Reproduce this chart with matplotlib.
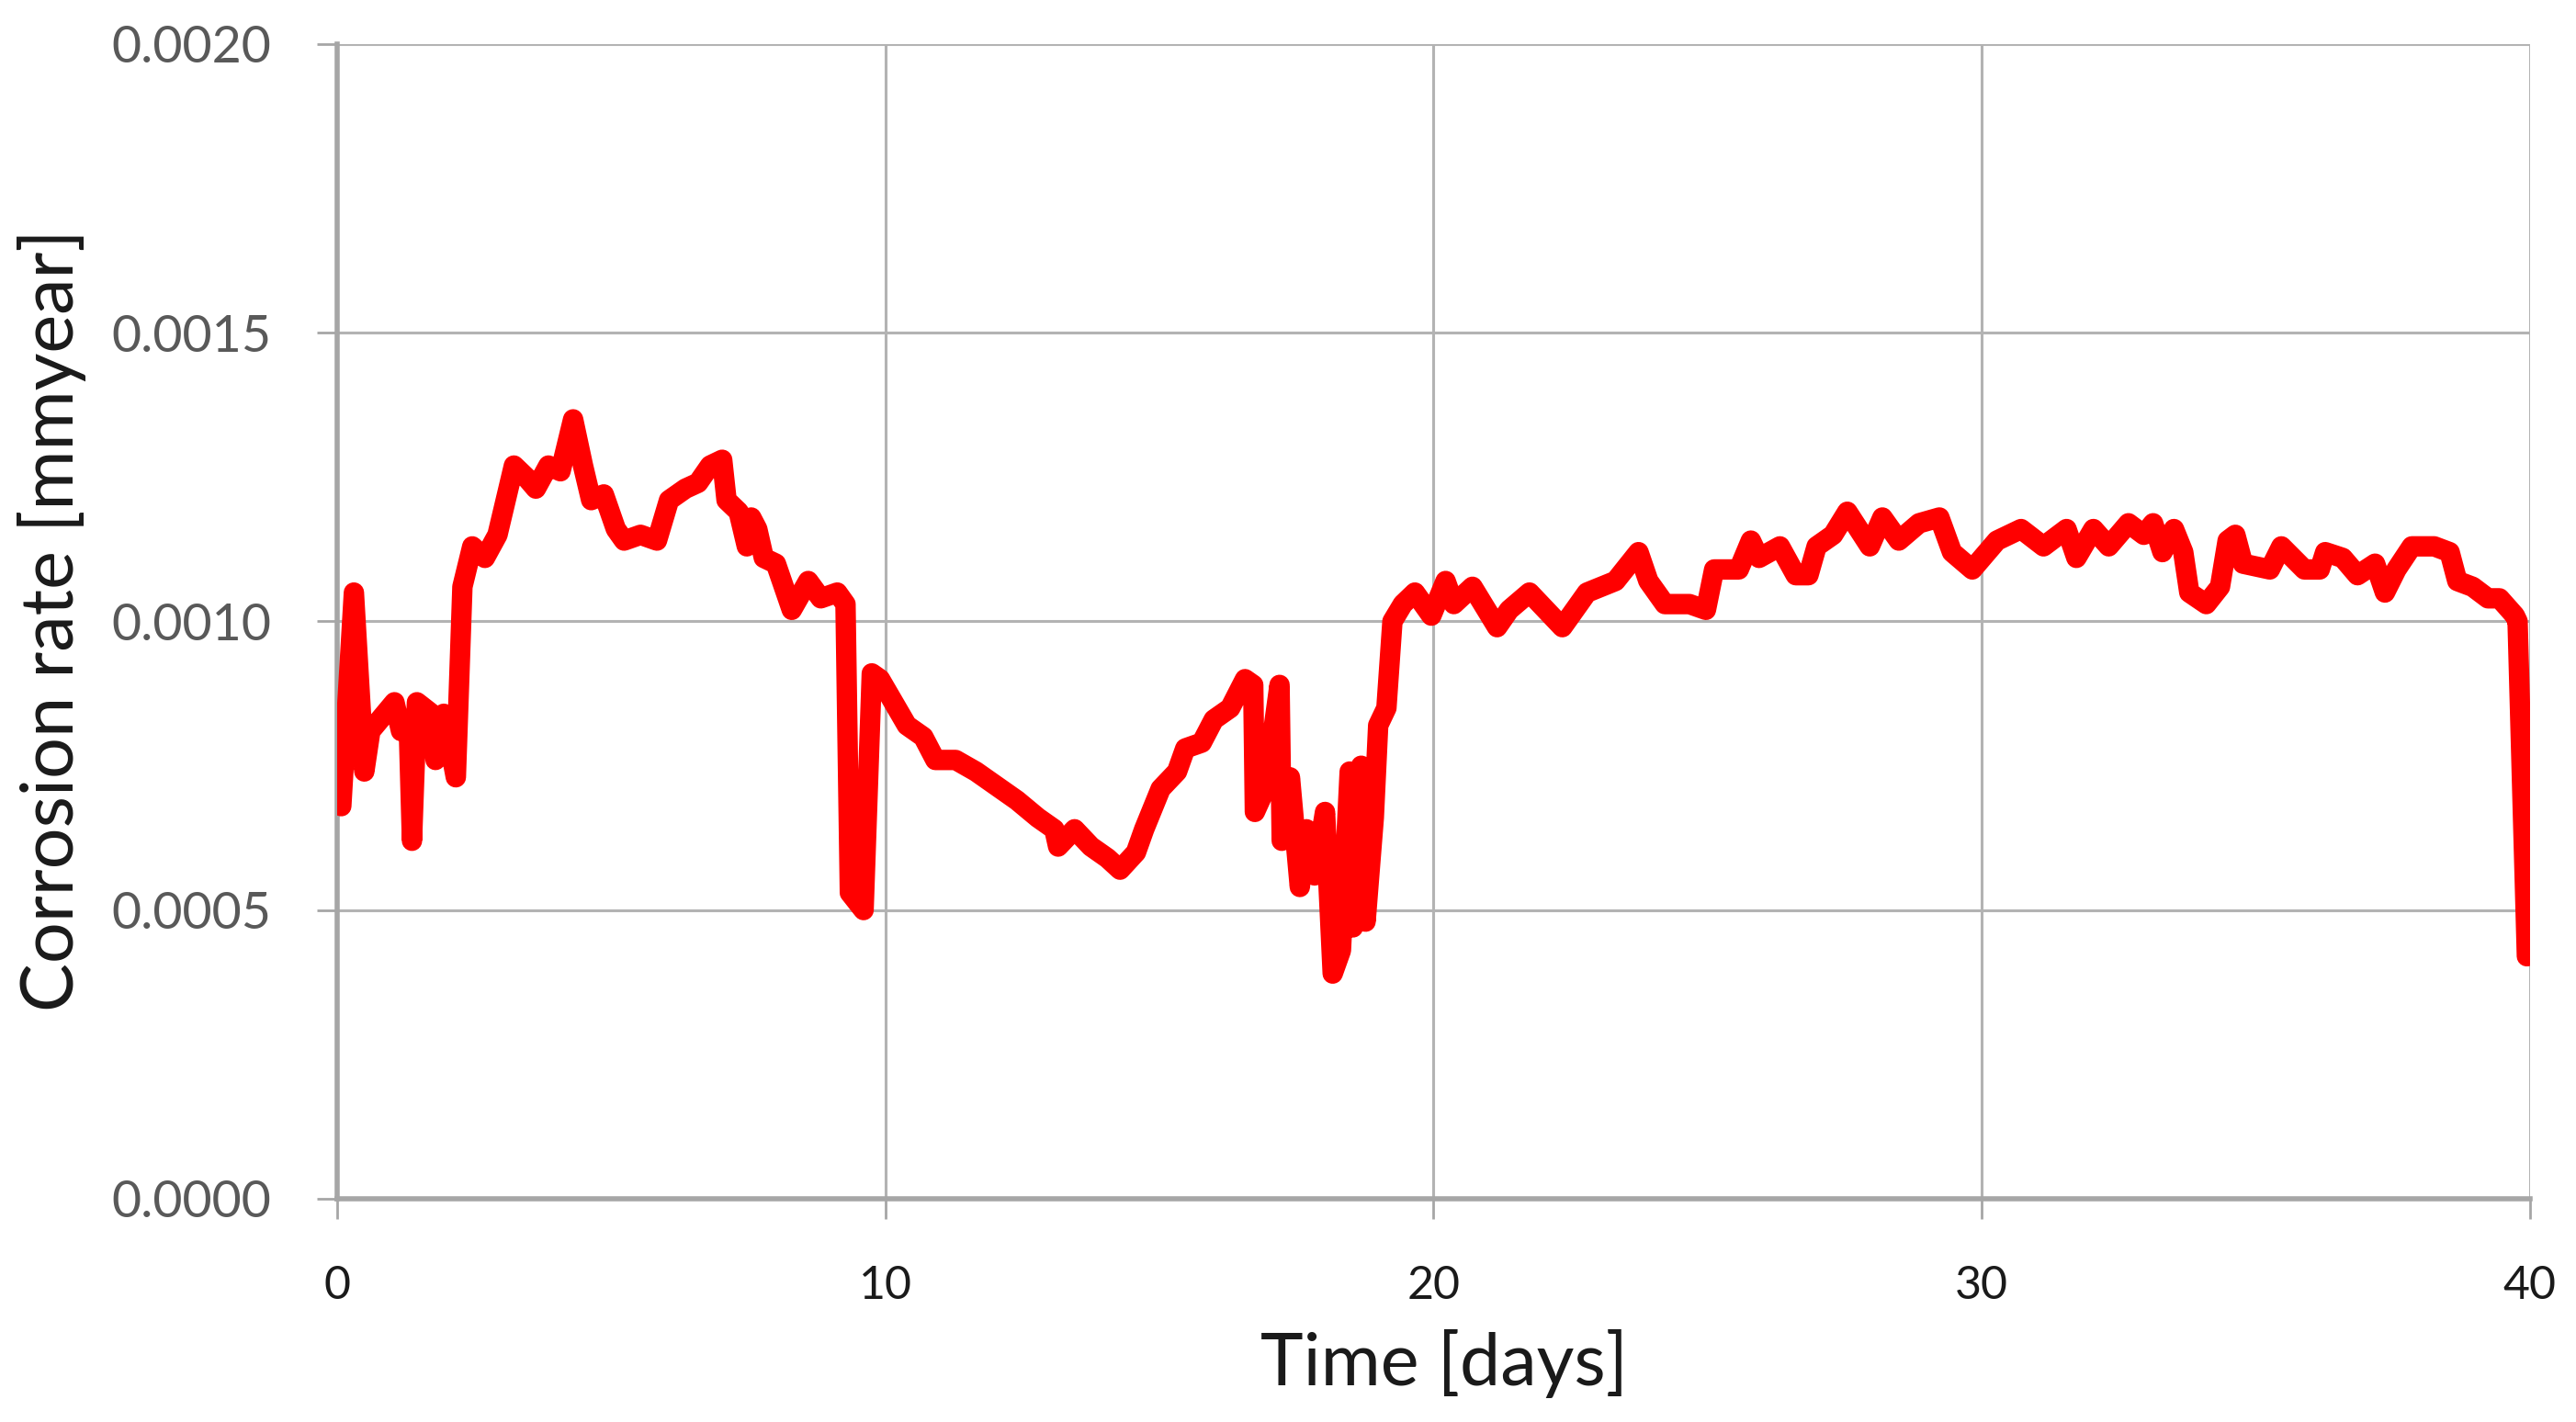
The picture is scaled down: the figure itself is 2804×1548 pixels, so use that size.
import matplotlib
matplotlib.use("Agg")
import matplotlib.pyplot as plt

# values
days = [
    0.0, 0.07, 0.30, 0.49, 0.60, 1.04, 1.16, 1.30, 1.36, 1.45, 1.72, 1.79,
    1.94, 2.16, 2.28, 2.46, 2.69, 2.92, 3.07, 3.22, 3.44, 3.62, 3.85, 4.07,
    4.30, 4.48, 4.63, 4.86, 5.08, 5.23, 5.53, 5.83, 6.05, 6.35, 6.58, 6.80,
    7.02, 7.10, 7.32, 7.47, 7.55, 7.66, 7.78, 8.00, 8.29, 8.59, 8.82, 9.12,
    9.27, 9.35, 9.60, 9.75, 9.90, 10.39, 10.69, 10.91, 11.28, 11.65, 12.10,
    12.40, 12.78, 13.08, 13.15, 13.45, 13.75, 14.05, 14.28, 14.57, 14.72,
    15.02, 15.32, 15.47, 15.77, 15.99, 16.29, 16.56, 16.71, 16.74, 16.93,
    17.19, 17.23, 17.38, 17.56, 17.68, 17.83, 18.02, 18.16, 18.31, 18.47,
    18.53, 18.68, 18.76, 18.91, 18.99, 19.14, 19.25, 19.44, 19.66, 19.96,
    20.22, 20.37, 20.71, 21.16, 21.38, 21.75, 22.35, 22.80, 23.32, 23.74,
    23.92, 24.22, 24.67, 24.97, 25.12, 25.57, 25.79, 25.94, 26.32, 26.61,
    26.84, 26.99, 27.29, 27.55, 27.96, 28.19, 28.49, 28.86, 29.23, 29.46,
    29.83, 30.28, 30.72, 31.13, 31.55, 31.73, 32.04, 32.32, 32.68, 32.96,
    33.13, 33.30, 33.51, 33.68, 33.79, 34.10, 34.35, 34.49, 34.63, 34.77,
    35.26, 35.47, 35.89, 36.17, 36.27, 36.59, 36.86, 37.18, 37.36, 37.57,
    37.85, 38.26, 38.54, 38.68, 38.96, 39.24, 39.45, 39.73, 39.78, 39.95,
]
rate = [
    0.00070, 0.00068, 0.00105, 0.00074, 0.00081, 0.00086, 0.00081, 0.00082,
    0.00062, 0.00086, 0.00084, 0.00076, 0.00084, 0.00073, 0.00106, 0.00113,
    0.00111, 0.00115, 0.00121, 0.00127, 0.00125, 0.00123, 0.00127, 0.00126,
    0.00135, 0.00127, 0.00121, 0.00122, 0.00116, 0.00114, 0.00115, 0.00114,
    0.00121, 0.00123, 0.00124, 0.00127, 0.00128, 0.00121, 0.00119, 0.00113,
    0.00118, 0.00116, 0.00111, 0.00110, 0.00102, 0.00107, 0.00104, 0.00105,
    0.00103, 0.00053, 0.00050, 0.00091, 0.00090, 0.00082, 0.00080, 0.00076,
    0.00076, 0.00074, 0.00071, 0.00069, 0.00066, 0.00064, 0.00061, 0.00064,
    0.00061, 0.00059, 0.00057, 0.00060, 0.00064, 0.00071, 0.00074, 0.00078,
    0.00079, 0.00083, 0.00085, 0.00090, 0.00089, 0.00067, 0.00071, 0.00089,
    0.00062, 0.00073, 0.00054, 0.00064, 0.00056, 0.00067, 0.00039, 0.00043,
    0.00074, 0.00047, 0.00075, 0.00048, 0.00066, 0.00082, 0.00085, 0.00100,
    0.00103, 0.00105, 0.00101, 0.00107, 0.00103, 0.00106, 0.00099, 0.00102,
    0.00105, 0.00099, 0.00105, 0.00107, 0.00112, 0.00107, 0.00103, 0.00103,
    0.00102, 0.00109, 0.00109, 0.00114, 0.00111, 0.00113, 0.00108, 0.00108,
    0.00113, 0.00115, 0.00119, 0.00113, 0.00118, 0.00114, 0.00117, 0.00118,
    0.00112, 0.00109, 0.00114, 0.00116, 0.00113, 0.00116, 0.00111, 0.00116,
    0.00113, 0.00117, 0.00115, 0.00117, 0.00112, 0.00116, 0.00112, 0.00105,
    0.00103, 0.00106, 0.00114, 0.00115, 0.00110, 0.00109, 0.00113, 0.00109,
    0.00109, 0.00112, 0.00111, 0.00108, 0.00110, 0.00105, 0.00109, 0.00113,
    0.00113, 0.00112, 0.00107, 0.00106, 0.00104, 0.00104, 0.00101, 0.00100,
    0.00042,
]
x_ticks = [0, 10, 20, 30, 40]
y_ticks = [0.0000, 0.0005, 0.0010, 0.0015, 0.0020]
y_tick_labels = ["0.0000", "0.0005", "0.0010", "0.0015", "0.0020"]

plt.rcParams["font.family"] = ["Lato", "DejaVu Sans"]

fig = plt.figure(figsize=(14.02, 7.74), dpi=200)
ax = fig.add_axes([0.131, 0.157, 0.851, 0.812])

ax.plot(days, rate, color="#ff0000", lw=8, solid_joinstyle="round",
        solid_capstyle="round", zorder=3)

ax.set_xlim(0, 40)
ax.set_ylim(0, 0.002)
ax.set_xticks(x_ticks)
ax.set_yticks(y_ticks)
ax.set_yticklabels(y_tick_labels)

ax.grid(True, color="#b3b3b3", lw=1.1)
ax.set_axisbelow(True)
for side in ("top", "right"):
    ax.spines[side].set_visible(False)
for side in ("left", "bottom"):
    ax.spines[side].set_color("#a6a6a6")
    ax.spines[side].set_linewidth(2.0)

ax.tick_params(axis="x", length=8, width=1.0, color="#a6a6a6", pad=18,
               labelsize=18, labelcolor="#1a1a1a")
ax.tick_params(axis="y", length=8, width=1.0, color="#a6a6a6", pad=18,
               labelsize=20, labelcolor="#595959")

fig.text(0.5606, 0.041, "Time [days]", ha="center", va="center",
         fontsize=28.5, color="#1a1a1a")
fig.text(0.020, 0.564, "Corrosion rate [mmyear]", ha="center", va="center",
         rotation=90, fontsize=28.5, color="#1a1a1a")

fig.savefig("out.png", dpi=200)
plt.close(fig)
